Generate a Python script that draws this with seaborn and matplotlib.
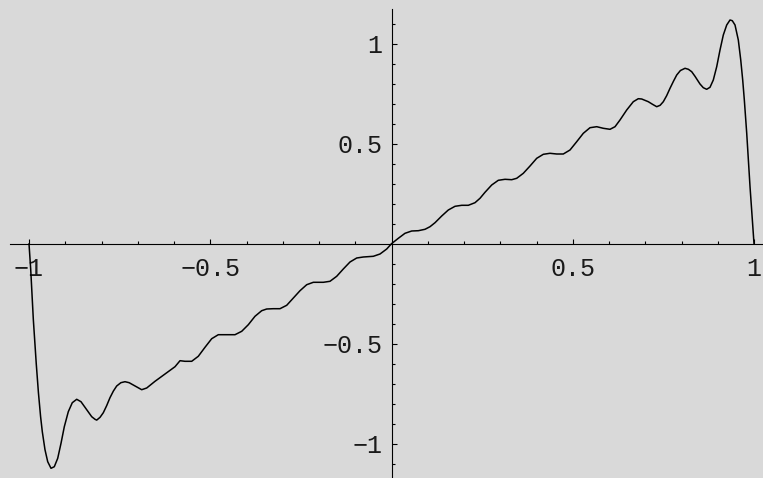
import pandas as pd
import matplotlib
matplotlib.use('Agg')
import matplotlib.pyplot as plt
import seaborn as sns
from matplotlib.ticker import FixedLocator, FixedFormatter

# Egri uzerinden okunan noktalar (x, y)
x_vals = [-1.000, -0.9953, -0.9881, -0.9800, -0.9740, -0.9680, -0.9633, -0.9559,
          -0.9484, -0.9393, -0.9302, -0.9208, -0.9117, -0.9026, -0.8916, -0.8806,
          -0.8684, -0.8566, -0.8436, -0.8270, -0.8179, -0.8132, -0.8040, -0.7950,
          -0.7858, -0.7766, -0.7673, -0.7581, -0.7466, -0.7352, -0.7237, -0.7123,
          -0.6891, -0.6753, -0.6524,
          -0.6248, -0.5972, -0.5834, -0.5697, -0.5512, -0.5330, -0.5145, -0.4960,
          -0.4778, -0.4546, -0.4317, -0.4132, -0.3950, -0.3766, -0.3581, -0.3443,
          -0.3261, -0.3076, -0.2891, -0.2709, -0.2524, -0.2339, -0.2157, -0.1881,
          -0.1697, -0.1512, -0.1330, -0.1145, -0.0960, -0.0778, -0.0502, -0.0317,
          -0.0132, 0.0000,
          0.0188, 0.0372, 0.0557, 0.0740, 0.0924, 0.1062, 0.1200, 0.1385,
          0.1567, 0.1752, 0.1937, 0.2119, 0.2303, 0.2441, 0.2579, 0.2764,
          0.2946, 0.3131, 0.3316, 0.3454, 0.3636, 0.3821, 0.4006, 0.4188,
          0.4372, 0.4557, 0.4739, 0.4924, 0.5109, 0.5291, 0.5476, 0.5661,
          0.5843, 0.6028, 0.6166, 0.6303, 0.6488, 0.6670, 0.6808, 0.6902,
          0.7084, 0.7200, 0.7316, 0.7410, 0.7498, 0.7590, 0.7683, 0.7780,
          0.7868, 0.7970, 0.8097, 0.8190, 0.8281, 0.8372, 0.8510, 0.8601,
          0.8694, 0.8786, 0.8877, 0.8971, 0.9062, 0.9153, 0.9247, 0.9338,
          0.9401, 0.9476, 0.9567, 0.9634, 0.9688, 0.9733, 0.9799, 0.9890,
          1.000]
y_vals = [0.000, -0.128, -0.378, -0.600, -0.745, -0.865, -0.940, -1.030,
          -1.090, -1.123, -1.115, -1.073, -0.998, -0.915, -0.840, -0.795,
          -0.778, -0.790, -0.823, -0.865, -0.878, -0.882, -0.868, -0.845,
          -0.810, -0.770, -0.737, -0.7115, -0.695, -0.690, -0.695, -0.7065,
          -0.730, -0.7215, -0.688,
          -0.6515, -0.615, -0.585, -0.588, -0.588, -0.563, -0.518, -0.475,
          -0.455, -0.455, -0.455, -0.438, -0.405, -0.363, -0.335, -0.3265,
          -0.325, -0.325, -0.308, -0.2715, -0.235, -0.205, -0.193, -0.193,
          -0.188, -0.163, -0.1265, -0.0915, -0.0715, -0.0665, -0.063, -0.0515,
          -0.0265, 0.000,
          0.027, 0.052, 0.0635, 0.065, 0.072, 0.085, 0.105, 0.1385,
          0.1685, 0.187, 0.192, 0.192, 0.205, 0.227, 0.257, 0.2935,
          0.317, 0.322, 0.320, 0.327, 0.352, 0.3885, 0.427, 0.447,
          0.452, 0.4485, 0.4485, 0.4685, 0.510, 0.552, 0.580, 0.585,
          0.577, 0.572, 0.585, 0.6185, 0.6685, 0.710, 0.725, 0.7235,
          0.710, 0.697, 0.685, 0.692, 0.710, 0.740, 0.777, 0.813,
          0.8435, 0.866, 0.877, 0.872, 0.860, 0.837, 0.7985, 0.780,
          0.772, 0.782, 0.8185, 0.885, 0.9685, 1.0435, 1.0935, 1.1185,
          1.115, 1.0935, 1.0185, 0.9185, 0.8185, 0.7185, 0.552, 0.285,
          0.000]

x_major = [-1, -0.5, 0.5, 1]
x_major_labels = ['\u22121', '\u22120.5', '0.5', '1']
x_minor = [-0.9, -0.8, -0.7, -0.6, -0.4, -0.3, -0.2, -0.1,
           0.1, 0.2, 0.3, 0.4, 0.6, 0.7, 0.8, 0.9]
y_major = [-1, -0.5, 0.5, 1]
y_major_labels = ['\u22121', '\u22120.5', '0.5', '1']
y_minor = [-1.1, -0.9, -0.8, -0.7, -0.6, -0.4, -0.3, -0.2, -0.1,
           0.1, 0.2, 0.3, 0.4, 0.6, 0.7, 0.8, 0.9, 1.1]

df = pd.DataFrame({'x': x_vals, 'y': y_vals})

sns.set_theme(style='white')
plt.rcParams['font.family'] = ['Liberation Mono', 'DejaVu Sans Mono']

bg = '#d9d9d9'
fig = plt.figure(figsize=(7.63, 4.78), dpi=100, facecolor=bg)
ax = fig.add_axes([0, 0, 1, 1], facecolor=bg)

sns.lineplot(data=df, x='x', y='y', sort=False, estimator=None,
             color='black', linewidth=1.1, ax=ax,
             solid_joinstyle='round', solid_capstyle='round')

ax.set_xlim(-1.080, 1.0248)
ax.set_ylim(-1.1715, 1.2185)
ax.set_xlabel('')
ax.set_ylabel('')

# Eksenler orijinden gecsin (Mathematica tarzi)
for side in ['top', 'right']:
    ax.spines[side].set_visible(False)
ax.spines['left'].set_position(('data', 0))
ax.spines['bottom'].set_position(('data', 0))
ax.spines['left'].set_bounds(-1.1715, 1.173)
ax.spines['bottom'].set_bounds(-1.052, 1.0248)
for side in ['left', 'bottom']:
    ax.spines[side].set_color('black')
    ax.spines[side].set_linewidth(0.8)

ax.xaxis.set_major_locator(FixedLocator(x_major))
ax.xaxis.set_major_formatter(FixedFormatter(x_major_labels))
ax.xaxis.set_minor_locator(FixedLocator(x_minor))
ax.yaxis.set_major_locator(FixedLocator(y_major))
ax.yaxis.set_major_formatter(FixedFormatter(y_major_labels))
ax.yaxis.set_minor_locator(FixedLocator(y_minor))

# seaborn 'white' stili tikleri kapatiyor, geri ac
ax.tick_params(axis='both', which='both', bottom=True, left=True,
               top=False, right=False)
ax.tick_params(axis='both', which='major', direction='in', length=3.5,
               width=0.8, color='black', labelsize=18, labelcolor='#1a1a1a')
ax.tick_params(axis='both', which='minor', direction='in', length=2.0,
               width=0.8, color='black')
ax.tick_params(axis='x', which='major', pad=9.5)
ax.tick_params(axis='y', which='major', pad=6.5)

fig.savefig('out.png', dpi=100, facecolor=bg)
